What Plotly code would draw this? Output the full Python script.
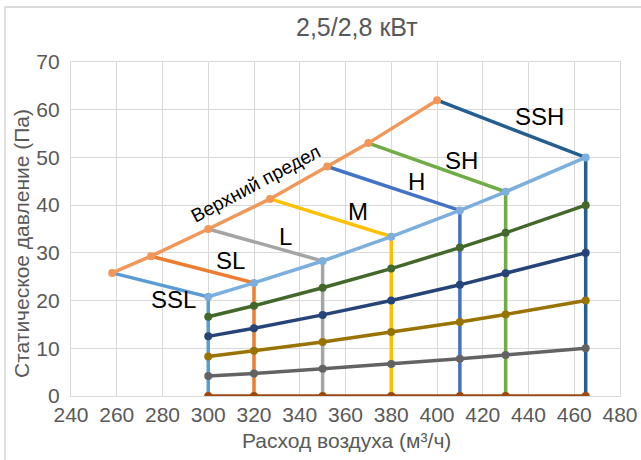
import plotly.graph_objects as go

# ---- data ----
flow = [300, 320, 350, 380, 410, 430, 465]              # airflow at each fan speed (m3/h)
speed_names = ["SSL", "SL", "L", "M", "H", "SH", "SSH"]
upper_x = [258, 275, 300, 327, 352, 370, 400]           # upper limit points (airflow)
upper_y = [25.8, 29.3, 35.0, 41.3, 48.1, 53.0, 62.0]    # upper limit points (pressure)

envelope = [20.8, 23.7, 28.3, 33.4, 38.9, 42.8, 50.0]
row40 = [16.6, 18.9, 22.7, 26.7, 31.1, 34.2, 40.0]
row30 = [12.5, 14.2, 17.0, 20.0, 23.3, 25.7, 30.0]
row20 = [8.3, 9.5, 11.3, 13.4, 15.5, 17.1, 20.0]
row10 = [4.2, 4.7, 5.7, 6.7, 7.8, 8.6, 10.0]
row0 = [0, 0, 0, 0, 0, 0, 0]

x_ticks = [240, 260, 280, 300, 320, 340, 360, 380, 400, 420, 440, 460, 480]
y_ticks = [0, 10, 20, 30, 40, 50, 60, 70]

title_text = "2,5/2,8 кВт"
x_title = "Расход воздуха (м³/ч)"
y_title = "Статическое давление (Па)"
upper_label = "Верхний предел"

# label positions (data coords)
label_x = [285, 309.8, 333.8, 365.3, 391.1, 410.7, 445]
label_y = [20.2, 28.5, 33.4, 38.7, 44.9, 49.4, 58.6]

# ---- styles ----
speed_colors = ["#5B9BD5", "#ED7D31", "#A5A5A5", "#FFC000", "#4472C4", "#70AD47", "#255E91"]
row_colors = ["#9E480E", "#636363", "#997300", "#264478", "#43682B"]
env_color = "#7CAFDD"
upper_color = "#F1975A"
FONT = "Liberation Sans, Arial, sans-serif"
LW = 3.5
MS = 8

L, R, T, B = 71, 21, 62, 64
PW, PH = 641 - L - R, 460 - T - B


def px_x(px):
    return (px - L) / PW


def px_y(py):
    return (460 - B - py) / PH


fig = go.Figure()

# speed curves: upper-limit point -> column top -> zero
for i, name in enumerate(speed_names):
    fig.add_trace(go.Scatter(
        x=[upper_x[i], flow[i], flow[i]],
        y=[upper_y[i], envelope[i], row0[i]],
        mode="lines", line=dict(color=speed_colors[i], width=LW),
        name=name, hoverinfo="skip"))

# constant-pressure rows
for vals, col in zip([row0, row10, row20, row30, row40], row_colors):
    fig.add_trace(go.Scatter(
        x=flow, y=vals, mode="lines+markers",
        line=dict(color=col, width=LW),
        marker=dict(color=col, size=MS), showlegend=False))

fig.add_trace(go.Scatter(
    x=flow, y=envelope, mode="lines+markers",
    line=dict(color=env_color, width=LW),
    marker=dict(color=env_color, size=MS), showlegend=False))

fig.add_trace(go.Scatter(
    x=upper_x, y=upper_y, mode="lines+markers",
    line=dict(color=upper_color, width=LW),
    marker=dict(color=upper_color, size=MS), showlegend=False))

annotations = []
for name, lx, ly in zip(speed_names, label_x, label_y):
    annotations.append(dict(x=lx, y=ly, xref="x", yref="y", text=name,
                            showarrow=False, xanchor="center", yanchor="middle",
                            font=dict(family=FONT, size=24, color="#000000")))
annotations.append(dict(x=320.8, y=44.6, xref="x", yref="y", text=upper_label,
                        showarrow=False, textangle=-28, xanchor="center", yanchor="middle",
                        font=dict(family=FONT, size=19, color="#000000")))
annotations.append(dict(x=px_x(357), y=px_y(27), xref="paper", yref="paper",
                        text=title_text, showarrow=False, xanchor="center", yanchor="middle",
                        font=dict(family=FONT, size=25, color="#595959")))
annotations.append(dict(x=px_x(346), y=px_y(441), xref="paper", yref="paper",
                        text=x_title, showarrow=False, xanchor="center", yanchor="middle",
                        font=dict(family=FONT, size=21, color="#595959")))
annotations.append(dict(x=px_x(21), y=px_y(244), xref="paper", yref="paper",
                        text=y_title, showarrow=False, textangle=-90, xanchor="center", yanchor="middle",
                        font=dict(family=FONT, size=21, color="#595959")))

fig.update_layout(
    width=641, height=460, autosize=False,
    margin=dict(l=L, r=R, t=T, b=B, autoexpand=False),
    paper_bgcolor="white", plot_bgcolor="white",
    showlegend=False,
    annotations=annotations,
    font=dict(family=FONT, size=21, color="#595959"),
    shapes=[dict(type="rect", xref="paper", yref="paper",
                 x0=px_x(5), x1=px_x(646), y0=px_y(466), y1=px_y(7),
                 line=dict(color="#D0D0D0", width=1.3), layer="below")],
)
fig.update_xaxes(range=[240, 480], tickvals=x_ticks, ticktext=[str(v) for v in x_ticks],
                 automargin=False,
                 showgrid=True, gridcolor="#D9D9D9", gridwidth=1.4,
                 showline=True, linecolor="#D9D9D9", linewidth=1.4, mirror=True,
                 zeroline=False, ticks="", tickfont=dict(family=FONT, size=21, color="#595959"))
fig.update_yaxes(range=[0, 70], tickvals=y_ticks, ticktext=[str(v) for v in y_ticks],
                 automargin=False,
                 showgrid=True, gridcolor="#D9D9D9", gridwidth=1.4,
                 showline=True, linecolor="#D9D9D9", linewidth=1.4, mirror=True,
                 zeroline=False, ticks="", ticklabelstandoff=6,
                 tickfont=dict(family=FONT, size=21, color="#595959"))

fig.write_html("out.html",
               config={"displayModeBar": False, "responsive": False},
               post_script="document.body.style.margin='0';document.body.style.overflow='hidden';")
